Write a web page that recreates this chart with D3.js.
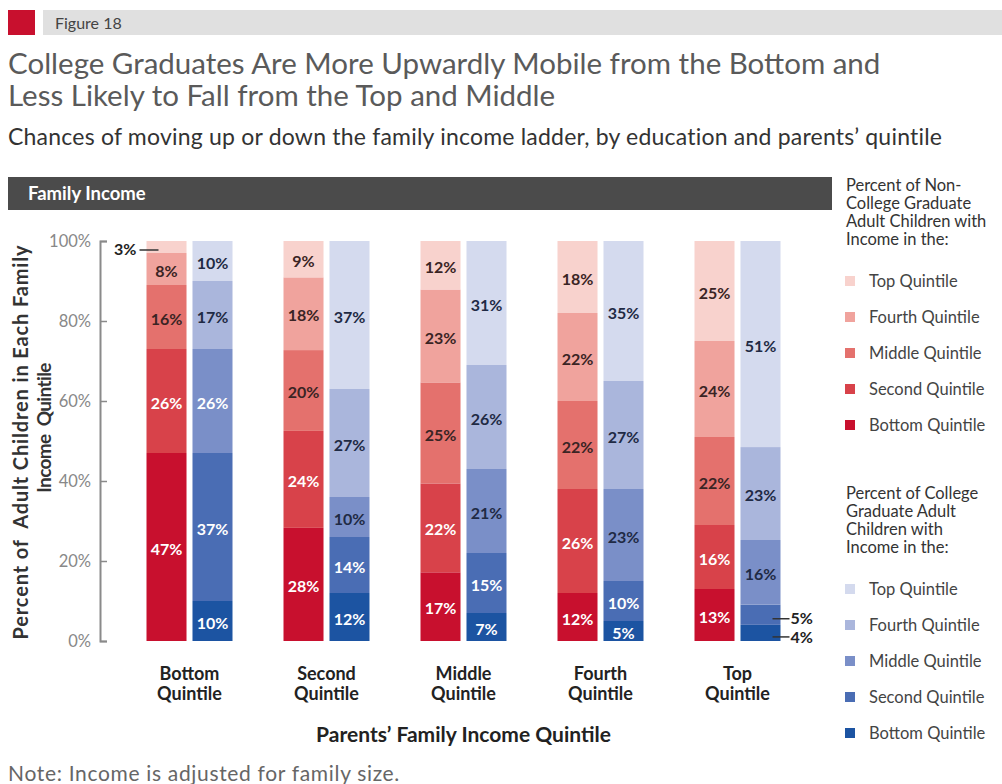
<!DOCTYPE html>
<html>
<head>
<meta charset="utf-8">
<script src="https://cdn.jsdelivr.net/npm/d3@7"></script>
<style>
    body { margin: 0; background: #fff; }
    svg { font-family: Lato, "Open Sans", sans-serif; }
</style>
</head>
<body>
<svg id="chart" width="1002" height="784"></svg>
<script>
// Parents' quintile (x groups)
var groups = ["Bottom", "Second", "Middle", "Fourth", "Top"];
// Child's income quintile, stacked bottom -> top
var quintiles = ["Bottom", "Second", "Middle", "Fourth", "Top"];

// Non-college graduates, % per child quintile (bottom..top), one row per parents' group
var nonCollege = [
    [47, 26, 16, 8, 3],
    [28, 24, 20, 18, 9],
    [17, 22, 25, 23, 12],
    [12, 26, 22, 22, 18],
    [13, 16, 22, 24, 25]
];
// College graduates
var college = [
    [10, 37, 26, 17, 10],
    [12, 14, 10, 27, 37],
    [7, 15, 21, 26, 31],
    [5, 10, 23, 27, 35],
    [4, 5, 16, 23, 51]
];

var yTicks = [0, 0.2, 0.4, 0.6, 0.8, 1];

var redShades = ["#c8102e", "#d8424a", "#e4716d", "#f0a39d", "#f8d2cd"];
var blueShades = ["#1c54a2", "#4a6db4", "#7a8fc8", "#aab6dc", "#d4daee"];

// small labels drawn outside the bar with a leader line
var callouts = [
    { series: "nc", group: "Bottom", quintile: "Top", side: "left" },
    { series: "cg", group: "Top", quintile: "Second", side: "right" },
    { series: "cg", group: "Top", quintile: "Bottom", side: "right" }
];

var svg = d3.select("#chart");

// stretch a text's tracking so it spans a given width
function fit(sel, w) {
    var len = sel.node().getComputedTextLength();
    var n = sel.text().length;
    sel.attr("letter-spacing", (w - len) / n);
    return sel;
}

// ---- header ----
svg.append("rect").attr("x", 8).attr("y", 10).attr("width", 27).attr("height", 25).attr("fill", "#c8102e");
svg.append("rect").attr("x", 43).attr("y", 10).attr("width", 959).attr("height", 25).attr("fill", "#e0e0e0");
svg.append("text").attr("x", 55).attr("y", 29).attr("font-size", 16).attr("fill", "#444").text("Figure 18");

svg.append("text").attr("x", 8).attr("y", 74).attr("font-size", 29.5).attr("fill", "#5a5a5a")
    .text("College Graduates Are More Upwardly Mobile from the Bottom and");
svg.append("text").attr("x", 8).attr("y", 106).attr("font-size", 29.5).attr("fill", "#5a5a5a")
    .text("Less Likely to Fall from the Top and Middle");
fit(svg.append("text").attr("x", 8).attr("y", 145).attr("font-size", 23).attr("fill", "#333")
    .text("Chances of moving up or down the family income ladder, by education and parents\u2019 quintile"), 935);

svg.append("rect").attr("x", 8).attr("y", 177).attr("width", 824).attr("height", 33).attr("fill", "#4b4b4b");
svg.append("text").attr("x", 28).attr("y", 200).attr("font-size", 18.5).attr("font-weight", "bold")
    .attr("fill", "#fff").text("Family Income");

// ---- scales ----
var y = d3.scaleLinear().domain([0, 1]).range([641, 241]);

var x0 = d3.scaleBand().domain(groups).range([121, 806]);
var x1 = d3.scaleBand().domain(["nc", "cg"]).range([-43, 43]).paddingInner(0.13);

function center(g) { return x0(g) + x0.bandwidth() / 2; }

// ---- y axis ----
var yAxis = d3.axisLeft(y)
    .tickValues(yTicks)
    .tickFormat(d3.format(".0%"))
    .tickSize(-7)
    .tickPadding(9);

var ax = svg.append("g").attr("transform", "translate(100,0)").call(yAxis);
ax.select(".domain").attr("stroke", "#8a8a8a").attr("stroke-width", 2);
ax.selectAll(".tick line").attr("stroke", "#8a8a8a").attr("stroke-width", 1.5);
ax.selectAll(".tick text").attr("font-size", 16.5).attr("fill", "#888").attr("font-family", "Lato, sans-serif");

fit(svg.append("text")
    .attr("transform", "translate(28,442) rotate(-90)")
    .attr("text-anchor", "middle").attr("font-size", 20).attr("font-weight", "bold").attr("fill", "#333")
    .attr("xml:space", "preserve")
    .text("Percent of  Adult Children in Each Family"), 395);
fit(svg.append("text")
    .attr("transform", "translate(51,428) rotate(-90)")
    .attr("text-anchor", "middle").attr("font-size", 19).attr("font-weight", "bold").attr("fill", "#333")
    .attr("xml:space", "preserve")
    .text("Income  Quintile"), 130);

// ---- stacked bars ----
var stack = d3.stack().keys(quintiles).offset(d3.stackOffsetExpand);

function toRows(table) {
    return groups.map(function (g, i) {
        var row = { group: g };
        quintiles.forEach(function (q, j) { row[q] = table[i][j]; });
        return row;
    });
}

var seriesDefs = [
    { key: "nc", table: nonCollege, colors: redShades },
    { key: "cg", table: college, colors: blueShades }
];

var labelSize = 16;

seriesDefs.forEach(function (s) {
    var layers = stack(toRows(s.table));
    var g = svg.append("g").attr("class", "series-" + s.key);

    layers.forEach(function (layer, qi) {
        var lg = g.append("g").attr("fill", s.colors[qi]);

        lg.selectAll("rect")
            .data(layer)
            .enter().append("rect")
            .attr("x", function (d) { return center(d.data.group) + x1(s.key); })
            .attr("width", x1.bandwidth())
            .attr("y", function (d) { return y(d[1]); })
            .attr("height", function (d) { return y(d[0]) - y(d[1]); });

        layer.forEach(function (d) {
            var val = d.data[layer.key];
            var mid = y((d[0] + d[1]) / 2);
            var barX = center(d.data.group) + x1(s.key);
            var co = callouts.find(function (c) {
                return c.series === s.key && c.group === d.data.group && c.quintile === layer.key;
            });
            if (co) {
                if (co.side === "left") {
                    svg.append("line").attr("x1", barX - 7).attr("x2", barX + 12)
                        .attr("y1", mid + 3).attr("y2", mid + 3)
                        .attr("stroke", "#333").attr("stroke-width", 1.5);
                    svg.append("text").attr("x", barX - 10).attr("y", mid + 2).attr("dy", "0.35em")
                        .attr("text-anchor", "end").attr("font-size", labelSize).attr("font-weight", "bold")
                        .attr("fill", "#222").text(val + "%");
                } else {
                    var right = barX + x1.bandwidth();
                    svg.append("line").attr("x1", right - 8).attr("x2", right + 9)
                        .attr("y1", mid + 4).attr("y2", mid + 4)
                        .attr("stroke", "#333").attr("stroke-width", 1.5);
                    svg.append("text").attr("x", right + 10).attr("y", mid + 4).attr("dy", "0.35em")
                        .attr("font-size", labelSize).attr("font-weight", "bold")
                        .attr("fill", "#222").text(val + "%");
                }
                return;
            }
            var white = qi < 2 || (s.key === "cg" && d.data.group === "Bottom" && qi === 2);
            svg.append("text")
                .attr("x", barX + x1.bandwidth() / 2)
                .attr("y", mid + 2)
                .attr("dy", "0.35em")
                .attr("text-anchor", "middle")
                .attr("font-size", labelSize)
                .attr("font-weight", "bold")
                .attr("fill", white ? "#fff" : (s.key === "cg" ? "#1f2a44" : "#3a2424"))
                .text(val + "%");
        });
    });
});

// ---- x labels ----
groups.forEach(function (g) {
    var t = svg.append("text").attr("text-anchor", "middle").attr("font-size", 18)
        .attr("font-weight", "bold").attr("fill", "#222");
    t.append("tspan").attr("x", center(g)).attr("y", 680).text(g);
    t.append("tspan").attr("x", center(g)).attr("y", 700).text("Quintile");
});

svg.append("text").attr("x", (center(groups[0]) + center(groups[4])) / 2).attr("y", 742)
    .attr("text-anchor", "middle").attr("font-size", 21).attr("font-weight", "bold").attr("fill", "#222")
    .text("Parents\u2019 Family Income Quintile");

fit(svg.append("text").attr("x", 8).attr("y", 781).attr("font-size", 21).attr("fill", "#666")
    .text("Note: Income is adjusted for family size."), 392);

// ---- legends ----
var legendTitles = [
    ["Percent of Non-", "College Graduate", "Adult Children with", "Income in the:"],
    ["Percent of College", "Graduate Adult", "Children with", "Income in the:"]
];
var legendTops = [191, 499];
var legendColors = [redShades, blueShades];

legendTitles.forEach(function (lines, li) {
    var lg = svg.append("g").attr("class", "legend");
    lines.forEach(function (line, k) {
        lg.append("text").attr("x", 846).attr("y", legendTops[li] + k * 18)
            .attr("font-size", 16.5).attr("fill", "#333").text(line);
    });
    var items = quintiles.slice().reverse();
    items.forEach(function (q, k) {
        var cy = legendTops[li] + 96 + k * 36;
        lg.append("rect").attr("x", 845).attr("y", cy - 11).attr("width", 10).attr("height", 10)
            .attr("fill", legendColors[li][quintiles.indexOf(q)]);
        lg.append("text").attr("x", 869).attr("y", cy).attr("font-size", 16.5).attr("fill", "#444")
            .text(q + " Quintile");
    });
});
</script>
</body>
</html>
